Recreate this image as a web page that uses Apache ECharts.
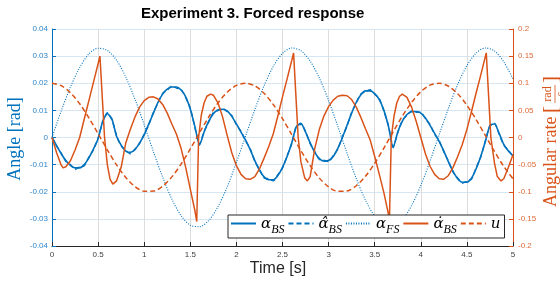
<!DOCTYPE html>
<html>
<head>
<meta charset="utf-8">
<script src="https://cdn.jsdelivr.net/npm/echarts@6/dist/echarts.min.js"></script>
<style>html,body{margin:0;padding:0;background:#fff}#c{width:560px;height:282px}</style>
</head>
<body>
<div id="c"></div>
<script>
// ---- data ----
const tFine = [0,0.05,0.1,0.15,0.2,0.25,0.3,0.35,0.4,0.45,0.5,0.55,0.6,0.65,0.7,0.75,0.8,0.85,0.9,0.95,1,1.05,1.1,1.15,1.2,1.25,1.3,1.35,1.4,1.45,1.5,1.55,1.6,1.65,1.7,1.75,1.8,1.85,1.9,1.95,2,2.05,2.1,2.15,2.2,2.25,2.3,2.35,2.4,2.45,2.5,2.55,2.6,2.65,2.7,2.75,2.8,2.85,2.9,2.95,3,3.05,3.1,3.15,3.2,3.25,3.3,3.35,3.4,3.45,3.5,3.55,3.6,3.65,3.7,3.75,3.8,3.85,3.9,3.95,4,4.05,4.1,4.15,4.2,4.25,4.3,4.35,4.4,4.45,4.5,4.55,4.6,4.65,4.7,4.75,4.8,4.85,4.9,4.95,5];
const alphaBS = [0,-0.003,-0.006,-0.0085,-0.0103,-0.0112,-0.0112,-0.0100,-0.0075,-0.0042,-0.0005,0.0060,0.0088,0.0068,0.0005,-0.0028,-0.0050,-0.0055,-0.0045,-0.0020,0.0010,0.0050,0.0090,0.0130,0.0160,0.0178,0.0186,0.0186,0.0175,0.0150,0.0105,0.0040,-0.0028,0.0020,0.0060,0.0088,0.0102,0.0104,0.0098,0.0078,0.0050,0.0020,-0.0010,-0.0045,-0.0085,-0.0120,-0.0145,-0.0156,-0.0156,-0.0140,-0.0110,-0.0070,-0.0020,0.0040,0.0052,0.0020,-0.0020,-0.0055,-0.0078,-0.0087,-0.0085,-0.0070,-0.0040,0.0000,0.0045,0.0090,0.0130,0.0158,0.0172,0.0172,0.0162,0.0140,0.0100,0.0040,-0.0038,0.0020,0.0060,0.0085,0.0095,0.0096,0.0090,0.0072,0.0045,0.0015,-0.0015,-0.0050,-0.0090,-0.0125,-0.0152,-0.0165,-0.0165,-0.0150,-0.0115,-0.0070,-0.0015,0.0045,0.0050,0.0015,-0.0025,-0.0050,-0.0067];
const alphaHatBS = [0,-0.0032,-0.0058,-0.0088,-0.0100,-0.0118,-0.0108,-0.0104,-0.0072,-0.0045,-0.0002,0.0057,0.0091,0.0065,0.0008,-0.0031,-0.0047,-0.0060,-0.0042,-0.0023,0.0013,0.0047,0.0093,0.0127,0.0163,0.0175,0.0190,0.0182,0.0178,0.0147,0.0108,0.0037,-0.0025,0.0023,0.0057,0.0092,0.0099,0.0107,0.0095,0.0081,0.0047,0.0023,-0.0013,-0.0042,-0.0088,-0.0117,-0.0149,-0.0152,-0.0160,-0.0137,-0.0113,-0.0067,-0.0023,0.0043,0.0049,0.0023,-0.0023,-0.0052,-0.0081,-0.0084,-0.0089,-0.0067,-0.0043,0.0003,0.0042,0.0093,0.0127,0.0161,0.0169,0.0176,0.0159,0.0143,0.0097,0.0043,-0.0035,0.0017,0.0063,0.0082,0.0098,0.0093,0.0093,0.0069,0.0048,0.0012,-0.0012,-0.0053,-0.0087,-0.0128,-0.0149,-0.0168,-0.0161,-0.0153,-0.0112,-0.0073,-0.0012,0.0042,0.0053,0.0012,-0.0028,-0.0047,-0.0070];
const tCoarse = [0,0.1,0.2,0.3,0.4,0.5,0.6,0.7,0.8,0.9,1,1.1,1.2,1.3,1.4,1.5,1.6,1.7,1.8,1.9,2,2.1,2.2,2.3,2.4,2.5,2.6,2.7,2.8,2.9,3,3.1,3.2,3.3,3.4,3.5,3.6,3.7,3.8,3.9,4,4.1,4.2,4.3,4.4,4.5,4.6,4.7,4.8,4.9,5];
const alphaFS = [0,0.0098,0.0186,0.0258,0.0308,0.0329,0.0321,0.0285,0.0223,0.0141,0.0047,-0.0052,-0.0146,-0.0227,-0.0288,-0.0323,-0.0329,-0.0306,-0.0255,-0.0182,-0.0092,0.0006,0.0103,0.0191,0.0262,0.0310,0.0330,0.0320,0.0282,0.0219,0.0136,0.0041,-0.0058,-0.0151,-0.0231,-0.0290,-0.0324,-0.0328,-0.0303,-0.0251,-0.0177,-0.0087,0.0011,0.0108,0.0195,0.0265,0.0311,0.0330,0.0319,0.0279,0.0215];
const uInput = [0.1,0.0955,0.0825,0.0622,0.0362,0.0071,-0.0227,-0.0505,-0.0737,-0.0904,-0.0990,-0.0988,-0.0897,-0.0726,-0.0490,-0.0211,0.0087,0.0378,0.0635,0.0835,0.0960,0.1000,0.0950,0.0816,0.0608,0.0347,0.0054,-0.0244,-0.0519,-0.0749,-0.0911,-0.0992,-0.0985,-0.0889,-0.0714,-0.0476,-0.0194,0.0104,0.0394,0.0647,0.0844,0.0965,0.0999,0.0945,0.0806,0.0595,0.0331,0.0037,-0.0260,-0.0534,-0.0760];
const tRate = [0,0.05,0.1,0.12,0.15,0.2,0.25,0.3,0.35,0.4,0.45,0.5,0.52,0.57,0.6,0.63,0.66,0.7,0.75,0.8,0.85,0.9,0.95,1,1.05,1.1,1.15,1.2,1.25,1.3,1.35,1.4,1.45,1.5,1.55,1.57,1.59,1.62,1.65,1.68,1.72,1.75,1.8,1.85,1.9,1.95,2,2.05,2.1,2.15,2.2,2.25,2.3,2.35,2.4,2.45,2.5,2.55,2.6,2.62,2.67,2.7,2.74,2.77,2.8,2.85,2.9,2.95,3,3.05,3.1,3.15,3.2,3.25,3.3,3.35,3.4,3.45,3.5,3.55,3.6,3.66,3.68,3.71,3.74,3.77,3.8,3.85,3.9,3.95,4,4.05,4.1,4.15,4.2,4.25,4.3,4.35,4.4,4.45,4.5,4.55,4.6,4.65,4.71,4.76,4.8,4.83,4.87,4.9,4.95,5];
const alphaDotBS = [0,-0.028,-0.051,-0.056,-0.054,-0.043,-0.023,0.000,0.034,0.068,0.102,0.136,0.150,0.000,-0.050,-0.077,-0.086,-0.080,-0.055,-0.010,0.015,0.038,0.056,0.068,0.074,0.075,0.071,0.061,0.045,0.025,0.006,-0.020,-0.055,-0.095,-0.135,-0.155,0.000,0.042,0.064,0.076,0.080,0.078,0.064,0.038,0.004,-0.028,-0.052,-0.068,-0.076,-0.077,-0.072,-0.058,-0.038,-0.017,0.007,0.040,0.075,0.108,0.142,0.156,0.000,-0.045,-0.074,-0.080,-0.072,-0.020,0.015,0.040,0.057,0.069,0.076,0.078,0.077,0.070,0.056,0.037,0.016,-0.004,-0.035,-0.068,-0.102,-0.150,0.000,0.040,0.064,0.076,0.080,0.074,0.056,0.030,0.000,-0.030,-0.053,-0.068,-0.076,-0.077,-0.070,-0.055,-0.035,-0.013,0.015,0.048,0.082,0.115,0.156,0.000,-0.048,-0.072,-0.080,-0.076,-0.055,-0.032];
const xTicks = {min: 0, max: 5, step: 0.5};
const angleTicks = {min: -0.04, max: 0.04, step: 0.01};
const rateTicks = {min: -0.2, max: 0.2, step: 0.05};
const seriesNames = ['aBS','ahBS','aFS','adBS','u'];
const legendLabels = {
  aBS: '{m|α}{s|BS}',
  ahBS: '{m|α̂}{s|BS}',
  aFS: '{m|α}{s|FS}',
  adBS: '{m|α̇}{s|BS}',
  u: '{m|u}'
};
const titleText = 'Experiment 3. Forced response';

// ---- chart ----
const BLUE = '#0072BD', ORANGE = '#D95319';
const zip = (t, v) => t.map((x, i) => [x, v[i]]);
const chart = echarts.init(document.getElementById('c'), null, {renderer: 'canvas'});
const serif = '"Liberation Serif", "Times New Roman", serif';
const mathSerif = '"DejaVu Serif", "Liberation Serif", serif';
const sans = '"Liberation Sans", Arial, Helvetica, sans-serif';

chart.setOption({
  animation: false,
  backgroundColor: '#fff',
  title: {
    text: titleText, left: 141, top: 6, padding: 0,
    textStyle: {fontFamily: sans, fontSize: 15, fontWeight: 'bold', color: '#000'}
  },
  grid: {left: 52, right: 47, top: 29, bottom: 36, containLabel: false},
  legend: {
    data: seriesNames,
    left: 228, top: 215,
    orient: 'horizontal',
    backgroundColor: '#fff', borderColor: '#262626', borderWidth: 1,
    padding: [2, 4, 2, 2],
    itemWidth: 25, itemHeight: 16, itemGap: 3,
    itemStyle: {opacity: 0},
    formatter: n => legendLabels[n],
    textStyle: {
      color: '#000',
      rich: {
        m: {fontFamily: mathSerif, fontStyle: 'italic', fontSize: 15, lineHeight: 17, verticalAlign: 'bottom'},
        s: {fontFamily: serif, fontStyle: 'italic', fontSize: 12, lineHeight: 17, verticalAlign: 'bottom', padding: [0,0,-4,0]}
      }
    }
  },
  xAxis: {
    type: 'value', min: xTicks.min, max: xTicks.max, interval: xTicks.step,
    axisLine: {show: true, onZero: false, lineStyle: {color: '#262626', width: 1}},
    axisTick: {show: true, inside: true, length: 4, lineStyle: {color: '#262626'}},
    axisLabel: {fontSize: 8, fontFamily: sans, color: '#404040', margin: 5},
    splitLine: {show: true, lineStyle: {color: '#dcdcdc', width: 1}}
  },
  yAxis: [
    {
      type: 'value', position: 'left', min: angleTicks.min, max: angleTicks.max, interval: angleTicks.step,
      axisLine: {show: true, onZero: false, lineStyle: {color: BLUE, width: 1}},
      axisTick: {show: true, inside: true, length: 4, lineStyle: {color: BLUE}},
      axisLabel: {fontSize: 8, fontFamily: sans, color: '#2f86c9', margin: 4},
      splitLine: {show: true, lineStyle: {color: '#d6e6f3', width: 1}}
    },
    {
      type: 'value', position: 'right', min: rateTicks.min, max: rateTicks.max, interval: rateTicks.step,
      axisLine: {show: true, onZero: false, lineStyle: {color: ORANGE, width: 1}},
      axisTick: {show: true, inside: true, length: 4, lineStyle: {color: ORANGE}},
      axisLabel: {fontSize: 8, fontFamily: sans, color: '#dd6a3a', margin: 5},
      splitLine: {show: false}
    }
  ],
  series: [
    {name: 'aBS', type: 'line', yAxisIndex: 0, data: zip(tFine, alphaBS), symbol: 'none', smooth: 0.2,
     lineStyle: {color: BLUE, width: 1.6}, itemStyle: {color: BLUE}},
    {name: 'ahBS', type: 'line', yAxisIndex: 0, data: zip(tFine, alphaHatBS), symbol: 'none', smooth: 0.2,
     lineStyle: {color: BLUE, width: 1.4, type: [5, 3]}, itemStyle: {color: BLUE}},
    {name: 'aFS', type: 'line', yAxisIndex: 0, data: zip(tCoarse, alphaFS), symbol: 'none', smooth: 0.3,
     lineStyle: {color: BLUE, width: 1.1, type: [1, 1.5]}, itemStyle: {color: BLUE}},
    {name: 'adBS', type: 'line', yAxisIndex: 1, data: zip(tRate, alphaDotBS), symbol: 'none', smooth: false,
     lineStyle: {color: ORANGE, width: 1.5}, itemStyle: {color: ORANGE}},
    {name: 'u', type: 'line', yAxisIndex: 1, data: zip(tCoarse, uInput), symbol: 'none', smooth: 0.3,
     lineStyle: {color: ORANGE, width: 1.5, type: [5, 3]}, itemStyle: {color: ORANGE}}
  ],
  graphic: [
    {type: 'text', x: 278, y: 269, style: {text: 'Time [s]', font: '16px ' + sans, fill: '#262626', textAlign: 'center', textVerticalAlign: 'middle'}},
    {type: 'group', x: 15, y: 139, rotation: Math.PI / 2, children: [
      {type: 'text', x: 0, y: 0, style: {text: 'Angle [rad]', font: '18px ' + serif, fill: BLUE, textAlign: 'center', textVerticalAlign: 'middle'}}
    ]},
    {type: 'group', x: 551, y: 141, rotation: Math.PI / 2, children: [
      {type: 'text', x: -66, y: 0, style: {text: 'Angular rate', font: '18px ' + serif, fill: ORANGE, textAlign: 'left', textVerticalAlign: 'middle'}},
      {type: 'text', x: 28, y: 0, style: {text: '[', font: '21px ' + serif, fill: ORANGE, textAlign: 'left', textVerticalAlign: 'middle'}},
      {type: 'text', x: 47, y: -3, style: {text: 'rad', font: '12px ' + serif, fill: ORANGE, textAlign: 'center', textVerticalAlign: 'middle'}},
      {type: 'line', shape: {x1: 38, y1: 4, x2: 56, y2: 4}, style: {stroke: ORANGE, lineWidth: 0.8}},
      {type: 'text', x: 47, y: 10, style: {text: 's', font: '12px ' + serif, fill: ORANGE, textAlign: 'center', textVerticalAlign: 'middle'}},
      {type: 'text', x: 58, y: 0, style: {text: ']', font: '21px ' + serif, fill: ORANGE, textAlign: 'left', textVerticalAlign: 'middle'}}
    ]}
  ]
});
</script>
</body>
</html>
